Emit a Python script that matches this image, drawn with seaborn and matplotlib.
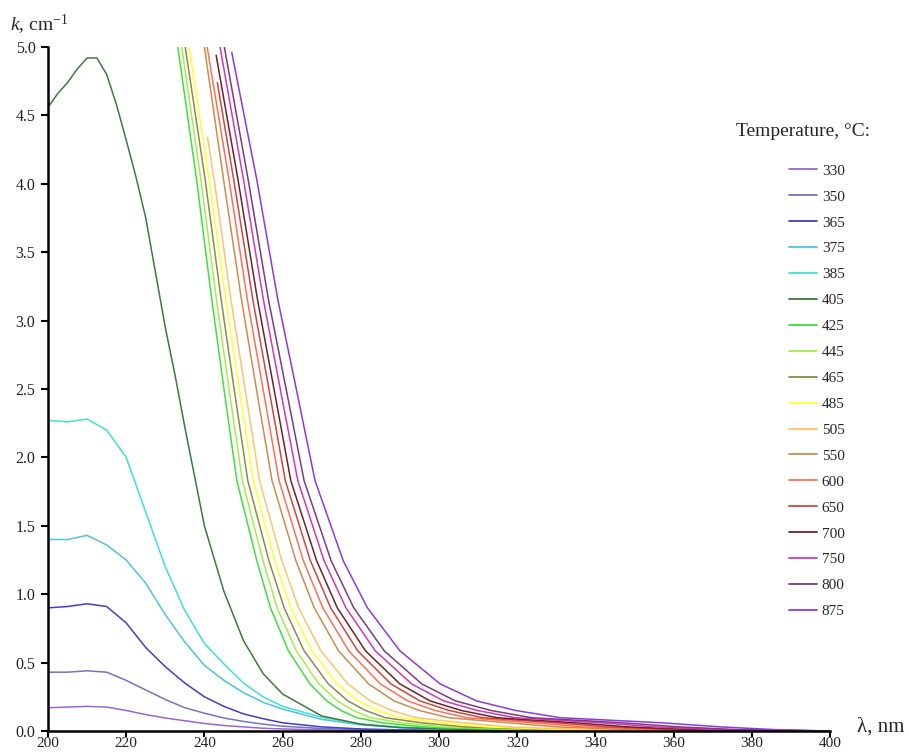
import seaborn as sns
import pandas as pd
import matplotlib.pyplot as plt

sns.set_style('ticks')
plt.rcParams['font.family'] = ['Liberation Serif', 'DejaVu Serif']
plt.rcParams['mathtext.fontset'] = 'custom'
plt.rcParams['mathtext.rm'] = 'Liberation Serif'
plt.rcParams['mathtext.it'] = 'Liberation Serif:italic'

temps = ['330', '350', '365', '375', '385', '405', '425', '445', '465', '485',
         '505', '550', '600', '650', '700', '750', '800', '875']
colors = ['#9a66d6', '#7474c0', '#3f3fcc', '#4cc4dc', '#3fe0d4', '#3d7a3d',
          '#3ee03e', '#a4ee48', '#8c8a4a', '#ffff30', '#ffc465', '#cc8c4c',
          '#ff7052', '#d2443e', '#6e2226', '#d436b4', '#7e3a7c', '#8a3ae0']

# low-temperature curves, k read on a wavelength grid
wl_grid = [200, 205, 210, 215, 220, 225, 230, 235, 240, 245, 250, 255, 260,
           270, 280, 290, 300, 320, 350, 400]
k_330 = [0.17, 0.175, 0.18, 0.175, 0.15, 0.12, 0.095, 0.075, 0.055, 0.04, 0.03, 0.02, 0.015,
         0.008, 0.005, 0.003, 0.002, 0.001, 0.0, 0.0]
k_350 = [0.43, 0.43, 0.44, 0.43, 0.37, 0.30, 0.23, 0.17, 0.13, 0.095, 0.07, 0.05, 0.035,
         0.018, 0.01, 0.006, 0.004, 0.002, 0.001, 0.0]
k_365 = [0.90, 0.91, 0.93, 0.91, 0.79, 0.61, 0.47, 0.35, 0.25, 0.18, 0.125, 0.09, 0.06,
         0.03, 0.015, 0.008, 0.005, 0.002, 0.001, 0.0]
k_375 = [1.40, 1.40, 1.43, 1.36, 1.25, 1.08, 0.85, 0.65, 0.48, 0.37, 0.28, 0.21, 0.16,
         0.085, 0.045, 0.025, 0.015, 0.006, 0.002, 0.0]
k_385 = [2.27, 2.26, 2.28, 2.20, 2.0, 1.6, 1.2, 0.88, 0.64, 0.49, 0.35, 0.25, 0.18,
         0.1, 0.05, 0.028, 0.018, 0.008, 0.003, 0.0]
# 405 read on a finer grid around its peak
wl_405 = [200, 202.5, 205, 207.5, 210, 212.5, 215, 217.5, 220, 222.5, 225, 227.5, 230,
          232.5, 235, 240, 245, 250, 255, 260, 270, 280, 290, 300, 320, 350, 400]
k_405 = [4.56, 4.66, 4.74, 4.84, 4.92, 4.92, 4.80, 4.58, 4.32, 4.05, 3.75, 3.35, 2.95,
         2.6, 2.22, 1.5, 1.02, 0.66, 0.42, 0.27, 0.11, 0.05, 0.025, 0.015, 0.006, 0.002, 0.0]

# high-temperature curves, wavelength read where each crosses these k levels
k_levels = [5.0, 4.03, 3.15, 2.5, 1.83, 1.245, 0.9, 0.586, 0.344, 0.22, 0.15, 0.097,
            0.06, 0.03, 0.01, 0.0]
wl_425 = [233.2, 238.0, 241.9, 245.0, 248.3, 253.4, 256.9, 261.5, 267.0, 271.3, 274.9, 279.0, 285.5, 296.0, 318.0, 400]
wl_445 = [234.2, 239.1, 243.1, 246.3, 249.7, 255.0, 258.6, 263.5, 269.3, 274.0, 278.0, 282.6, 290.5, 301.3, 322.8, 400]
wl_465 = [235.1, 240.2, 244.3, 247.6, 251.1, 256.5, 260.4, 265.5, 271.7, 276.7, 281.2, 286.3, 295.5, 306.6, 327.5, 400]
wl_485 = [236.1, 241.2, 245.5, 248.9, 252.5, 258.0, 262.1, 267.5, 274.0, 279.3, 284.3, 289.9, 300.5, 312.0, 332.3, 400]
wl_505 = [240.8, 242.5, 246.8, 250.4, 254.1, 259.8, 264.1, 269.8, 276.7, 282.4, 287.9, 294.1, 306.2, 318.0, 337.7, 400]
wl_550 = [240.0, 244.9, 249.5, 253.3, 257.3, 263.4, 268.1, 274.3, 282.0, 288.5, 295.0, 302.4, 317.7, 330.2, 348.6, 400]
wl_600 = [240.7, 246.3, 251.0, 255.0, 259.1, 265.3, 270.3, 276.9, 285.0, 292.0, 299.0, 307.1, 324.1, 337.0, 354.7, 400]
wl_650 = [243.3, 247.5, 252.4, 256.5, 260.7, 267.1, 272.3, 279.2, 287.7, 295.1, 302.6, 311.2, 329.8, 343.1, 360.2, 400]
wl_700 = [243.0, 248.6, 253.6, 257.8, 262.1, 268.7, 274.0, 281.2, 290.0, 297.7, 305.7, 314.9, 334.8, 348.4, 364.9, 400]
wl_750 = [244.0, 250.0, 255.1, 259.4, 263.9, 270.6, 276.2, 283.7, 293.0, 301.2, 309.8, 319.6, 341.3, 355.3, 371.0, 400]
wl_800 = [245.1, 251.2, 256.4, 260.9, 265.5, 272.4, 278.2, 286.0, 295.6, 304.2, 313.3, 323.7, 347.0, 361.4, 376.5, 400]
wl_875 = [247.0, 253.4, 258.8, 263.5, 268.3, 275.5, 281.7, 290.0, 300.3, 309.6, 319.6, 331.0, 357.0, 372.0, 386.0, 400]
# curves whose recorded data start below the top of the plot
start_k = {'505': 4.34, '650': 4.74, '700': 4.94, '875': 4.96}

low = {'330': k_330, '350': k_350, '365': k_365, '375': k_375, '385': k_385}
high = {'425': wl_425, '445': wl_445, '465': wl_465, '485': wl_485, '505': wl_505,
        '550': wl_550, '600': wl_600, '650': wl_650, '700': wl_700, '750': wl_750,
        '800': wl_800, '875': wl_875}

frames = []
for t, ks in low.items():
    frames.append(pd.DataFrame({'wl': wl_grid, 'k': ks, 'T': t}))
frames.append(pd.DataFrame({'wl': wl_405, 'k': k_405, 'T': '405'}))
for t, wls in high.items():
    ks = list(k_levels)
    if t in start_k:
        ks[0] = start_k[t]
    frames.append(pd.DataFrame({'wl': wls, 'k': ks, 'T': t}))
df = pd.concat(frames, ignore_index=True)

fig = plt.figure(figsize=(9.09, 7.53), dpi=100)
ax = fig.add_axes([48 / 909, 22 / 753, 782 / 909, 684 / 753])
sns.lineplot(data=df, x='wl', y='k', hue='T', hue_order=temps,
             palette=dict(zip(temps, colors)), estimator=None, sort=True,
             linewidth=1.1, ax=ax)

ax.set_xlim(200, 400)
ax.set_ylim(0, 5)
ax.set_xticks(range(200, 401, 20))
ax.set_yticks([i * 0.5 for i in range(11)])
ax.set_yticklabels([f'{i * 0.5:.1f}' for i in range(11)])
ax.set_xlabel('')
ax.set_ylabel('')
sns.despine(ax=ax)
for s in ['left', 'bottom']:
    ax.spines[s].set_linewidth(1.8)
    ax.spines[s].set_color('black')
ax.tick_params(axis='both', labelcolor='#222222', width=1.5,
               length=5, direction='out', color='black')
ax.tick_params(axis='y', pad=4, labelsize=11.5)
ax.tick_params(axis='x', pad=0, labelsize=11, length=4)

leg = ax.get_legend()
handles = leg.legend_handles
labels = [t.get_text() for t in leg.get_texts()]
leg.remove()
fig.legend(handles, labels, loc='upper left',
           bbox_to_anchor=(789 / 909, 1 - 164 / 753), bbox_transform=fig.transFigure,
           frameon=False, fontsize=11, borderpad=0, borderaxespad=0,
           handlelength=1.8, handletextpad=0.35, labelspacing=0.8)
for h in fig.legends[0].legend_handles:
    h.set_linewidth(1.3)

fig.text(736 / 909, 1 - 131 / 753, 'Temperature, °C:', fontsize=14, va='center', ha='left')
fig.text(10 / 909, 1 - 25 / 753, r'$k$, cm$^{-1}$', fontsize=14, va='center', ha='left')
fig.text(857 / 909, 1 - 727 / 753, 'λ, nm', fontsize=15, va='center', ha='left')

fig.savefig('out.png', dpi=100)
